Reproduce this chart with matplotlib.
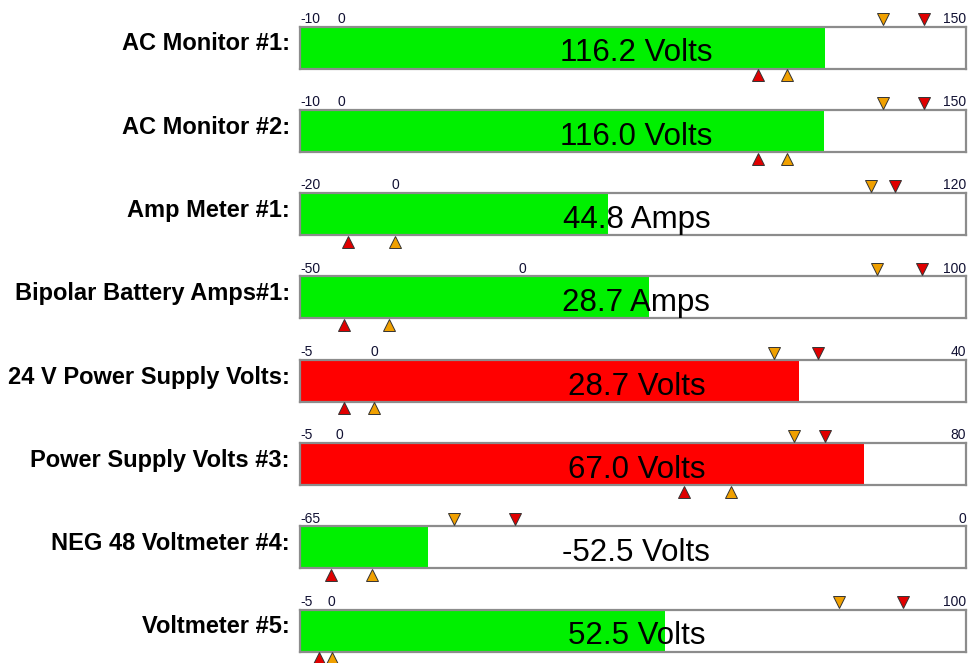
import matplotlib
matplotlib.use("Agg")
import matplotlib.pyplot as plt
import matplotlib.transforms as mtransforms

# ---- data ----
labels = ["AC Monitor #1:", "AC Monitor #2:", "Amp Meter #1:", "Bipolar Battery Amps#1:",
          "24 V Power Supply Volts:", "Power Supply Volts #3:", "NEG 48 Voltmeter #4:", "Voltmeter #5:"]
values = [116.2, 116.0, 44.8, 28.7, 28.7, 67.0, -52.5, 52.5]
units = ["Volts", "Volts", "Amps", "Amps", "Volts", "Volts", "Volts", "Volts"]
range_min = [-10, -10, -20, -50, -5, -5, -65, -5]
range_max = [150, 150, 120, 100, 40, 80, 0, 100]
low_alarm = [100, 100, -10, -40, -2, 44, -62, -2]
low_warn = [107, 107, 0, -30, 0, 50, -58, 0]
high_warn = [130, 130, 100, 80, 27, 58, -50, 80]
high_alarm = [140, 140, 105, 90, 30, 62, -44, 90]
bar_colors = ["#00f000", "#00f000", "#00f000", "#00f000", "#ff0000", "#ff0000", "#00f000", "#00f000"]

W, H = 969, 663
fig = plt.figure(figsize=(W / 100, H / 100), dpi=100)
fig.patch.set_facecolor("white")

bar_left, bar_right = 300, 966
bar_h = 42
first_top = 26.5
spacing = 83.3

ORANGE = "#f0a000"
RED = "#e00000"
BORDER = "#8c8c8c"

for i in range(len(labels)):
    top = first_top + i * spacing
    ax = fig.add_axes([bar_left / W, 1 - (top + bar_h) / H, (bar_right - bar_left) / W, bar_h / H])
    ax.set_xlim(range_min[i], range_max[i])
    ax.set_ylim(0, 1)
    ax.barh(0.5, values[i] - range_min[i], left=range_min[i], height=1.0,
            color=bar_colors[i], edgecolor="none", zorder=1)
    for s in ax.spines.values():
        s.set_color(BORDER)
        s.set_linewidth(1.6)
        s.set_zorder(3)
    ax.set_xticks([])
    ax.set_yticks([])
    trans = mtransforms.blended_transform_factory(ax.transData, ax.transAxes)
    # tick labels
    tk = dict(transform=trans, fontsize=10, family="Liberation Sans", va="baseline",
              color="#111133", clip_on=False)
    ax.text(range_min[i], 1.09, str(range_min[i]), ha="left", **tk)
    ax.text(range_max[i], 1.09, str(range_max[i]), ha="right", **tk)
    if range_min[i] < 0 < range_max[i]:
        ax.text(0, 1.09, "0", ha="center", **tk)
    # markers
    mk = dict(transform=trans, clip_on=False, markersize=8.5, markeredgecolor="#333333",
              markeredgewidth=0.7, linestyle="none", zorder=5)
    ax.plot([high_warn[i]], [1.17], marker="v", color=ORANGE, **mk)
    ax.plot([high_alarm[i]], [1.17], marker="v", color=RED, **mk)
    ax.plot([low_alarm[i]], [-0.16], marker="^", color=RED, **mk)
    ax.plot([low_warn[i]], [-0.16], marker="^", color=ORANGE, **mk)
    # value text
    ax.text(0.505, 0.17, f"{values[i]:.1f} {units[i]}", transform=ax.transAxes,
            ha="center", va="baseline", fontsize=22.5, family="Liberation Sans",
            color="black", zorder=4)
    # row label
    fig.text(290 / W, 1 - (top + 23.8) / H, labels[i], ha="right", va="baseline",
             fontsize=17, fontweight="bold", family="Liberation Sans")

fig.savefig("out.png", dpi=100, facecolor="white")
